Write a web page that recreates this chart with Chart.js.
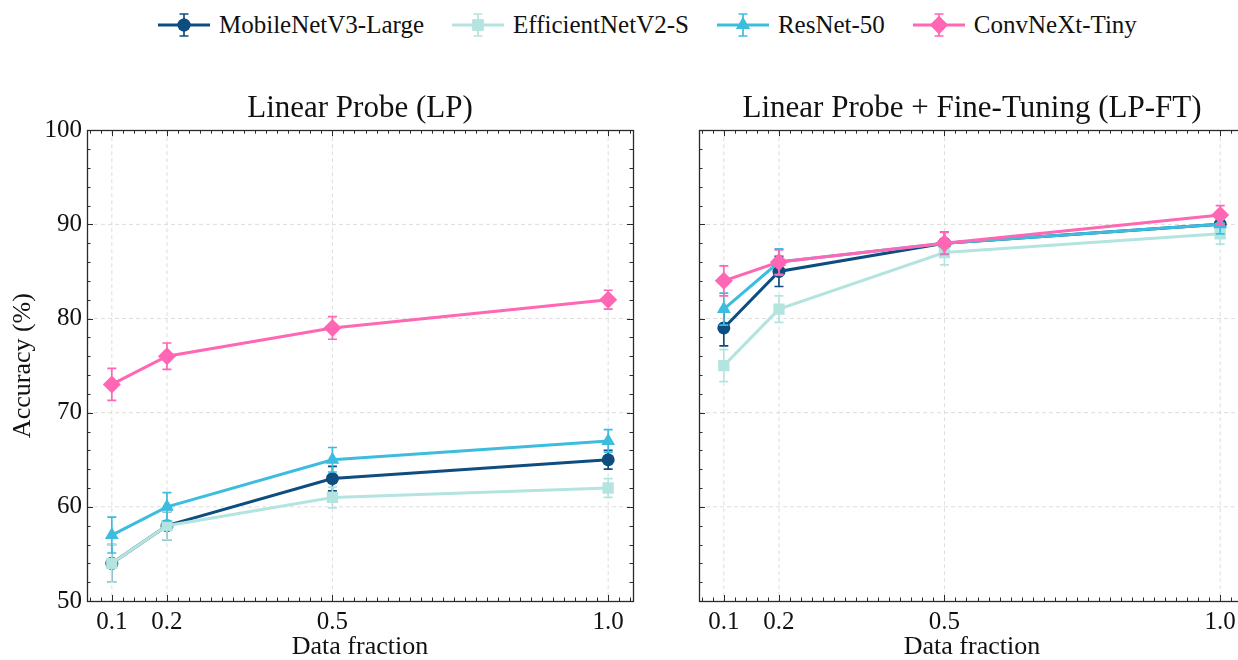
<!DOCTYPE html>
<html>
<head>
<meta charset="utf-8">
<script src="https://cdn.jsdelivr.net/npm/chart.js@4.4.0/dist/chart.umd.min.js"></script>
<style>
  body { margin: 0; width: 1238px; height: 660px; background: #fff; position: relative; overflow: hidden;
         font-family: "Liberation Serif", serif; }
  .plot { position: absolute; top: 60px; height: 600px; }
  #legend { position: absolute; top: 8px; left: 158px; height: 34px; display: flex; align-items: center; gap: 28px; }
  #legend .item { display: flex; align-items: center; font-size: 25px; color: #111; }
  #legend canvas { margin-right: 9px; }
</style>
</head>
<body>
<div id="legend"></div>
<div class="plot" style="left:0;width:645px"><canvas id="lp"></canvas></div>
<div class="plot" style="left:660px;width:600px"><canvas id="lpft"></canvas></div>
<script>
const fractions = [0.1, 0.2, 0.5, 1.0];
const xTickLabels = ["0.1", "0.2", "0.5", "1.0"];
const models = ["MobileNetV3-Large", "EfficientNetV2-S", "ResNet-50", "ConvNeXt-Tiny"];
const colors = ["#0e4d80", "#b4e4df", "#3cbde0", "#ff66b3"];
const markers = ["circle", "rect", "triangle", "rectRot"];
const markerSizes = [6.5, 8, 8, 9];

// Linear probe
const lpMobileNet = [54, 58, 63, 65];
const lpMobileNetErr = [2.0, 1.5, 1.3, 1.0];
const lpEfficientNet = [54, 58, 61, 62];
const lpEfficientNetErr = [2.0, 1.5, 1.1, 1.0];
const lpResNet = [57, 60, 65, 67];
const lpResNetErr = [1.9, 1.5, 1.3, 1.2];
const lpConvNeXt = [73, 76, 79, 82];
const lpConvNeXtErr = [1.7, 1.4, 1.2, 1.0];

// Linear probe + fine-tuning
const ftMobileNet = [79, 85, 88, 90];
const ftMobileNetErr = [1.9, 1.6, 1.2, 1.0];
const ftEfficientNet = [75, 81, 87, 89];
const ftEfficientNetErr = [1.7, 1.4, 1.3, 1.1];
const ftResNet = [81, 86, 88, 90];
const ftResNetErr = [1.7, 1.4, 1.2, 1.0];
const ftConvNeXt = [84, 86, 88, 91];
const ftConvNeXtErr = [1.6, 1.3, 1.15, 1.0];

const FONT = "Liberation Serif";

function buildLegend() {
  const lg = document.getElementById("legend");
  models.forEach((name, i) => {
    const item = document.createElement("div");
    item.className = "item";
    const c = document.createElement("canvas");
    c.width = 52; c.height = 34;
    const g = c.getContext("2d");
    g.strokeStyle = colors[i]; g.fillStyle = colors[i];
    g.lineWidth = 3;
    g.beginPath(); g.moveTo(0, 17); g.lineTo(52, 17); g.stroke();
    g.lineWidth = 1.7;
    g.beginPath(); g.moveTo(26, 6); g.lineTo(26, 28);
    g.moveTo(21.5, 6); g.lineTo(30.5, 6); g.moveTo(21.5, 28); g.lineTo(30.5, 28); g.stroke();
    Chart.helpers.drawPoint(g, {pointStyle: markers[i], radius: markerSizes[i], borderWidth: 0}, 26, 17);
    g.fill();
    item.appendChild(c);
    const t = document.createElement("span");
    t.textContent = name;
    item.appendChild(t);
    lg.appendChild(item);
  });
}

const errorBars = {
  id: "errorBars",
  beforeDatasetDraw(chart, args) {
    const ds = chart.data.datasets[args.index];
    const {x: xs, y: ys} = chart.scales;
    const ctx = chart.ctx;
    ctx.save();
    ctx.strokeStyle = ds.borderColor;
    ctx.lineWidth = 1.7;
    ds.data.forEach((p, i) => {
      const e = ds.errors[i];
      const px = xs.getPixelForValue(p.x);
      const top = ys.getPixelForValue(p.y + e);
      const bot = ys.getPixelForValue(p.y - e);
      ctx.beginPath();
      ctx.moveTo(px, top); ctx.lineTo(px, bot);
      ctx.moveTo(px - 4.5, top); ctx.lineTo(px + 4.5, top);
      ctx.moveTo(px - 4.5, bot); ctx.lineTo(px + 4.5, bot);
      ctx.stroke();
    });
    ctx.restore();
  }
};

const frame = {
  id: "frame",
  beforeDatasetsDraw(chart) {
    const {ctx, chartArea: a, scales: {x, y}} = chart;
    ctx.save();
    ctx.strokeStyle = "#d4d4d4";
    ctx.lineWidth = 0.8;
    ctx.setLineDash([4, 3]);
    ctx.beginPath();
    fractions.forEach(v => { const px = x.getPixelForValue(v); ctx.moveTo(px, a.top); ctx.lineTo(px, a.bottom); });
    [60, 70, 80, 90].forEach(v => { const py = y.getPixelForValue(v); ctx.moveTo(a.left, py); ctx.lineTo(a.right, py); });
    ctx.stroke();
    ctx.restore();
  },
  afterDraw(chart) {
    const {ctx, chartArea: a, scales: {x, y}} = chart;
    ctx.save();
    ctx.strokeStyle = "#2a2a2a";
    ctx.lineWidth = 1.3;
    ctx.strokeRect(Math.round(a.left) + 0.5, Math.round(a.top) + 0.5, Math.round(a.right - a.left), Math.round(a.bottom - a.top));
    ctx.lineWidth = 1;
    ctx.beginPath();
    for (let v = 50; v <= 100; v += 2) {
      const len = v % 10 === 0 ? 6 : 3.5;
      const py = Math.round(y.getPixelForValue(v)) + 0.5;
      ctx.moveTo(a.left, py); ctx.lineTo(a.left + len, py);
      ctx.moveTo(a.right, py); ctx.lineTo(a.right - len, py);
    }
    for (let k = 3; k <= 52; k++) {
      const v = k * 0.02;
      const major = fractions.some(f => Math.abs(f - v) < 1e-6);
      const len = major ? 6 : 3.5;
      const px = Math.round(x.getPixelForValue(v)) + 0.5;
      ctx.moveTo(px, a.bottom); ctx.lineTo(px, a.bottom - len);
      ctx.moveTo(px, a.top); ctx.lineTo(px, a.top + len);
    }
    ctx.stroke();
    ctx.restore();
  }
};

function makeChart(id, title, series, errs, first, padRight, yWidth) {
  const datasets = series.map((vals, i) => ({
    label: models[i],
    data: vals.map((v, j) => ({x: fractions[j], y: v})),
    errors: errs[i],
    borderColor: colors[i],
    backgroundColor: colors[i],
    borderWidth: 3,
    pointStyle: markers[i],
    pointRadius: markerSizes[i],
    pointBorderWidth: 0,
    order: 3 - i,
    tension: 0
  }));
  return new Chart(document.getElementById(id), {
    type: "line",
    data: {datasets},
    options: {
      responsive: true,
      maintainAspectRatio: false,
      animation: false,
      layout: {padding: {top: 0, right: padRight, bottom: 0, left: 0}},
      plugins: {
        legend: {display: false},
        tooltip: {enabled: false},
        title: {display: true, text: title, fullSize: false, color: "#111",
                font: {family: FONT, size: 31, weight: "normal", lineHeight: 1.2}, padding: {top: 30, bottom: 3}}
      },
      scales: {
        x: {
          type: "linear", min: 0.055, max: 1.045,
          grid: {display: false, drawTicks: false}, border: {display: false},
          afterBuildTicks: s => { s.ticks = fractions.map(v => ({value: v})); },
          afterFit: s => { s.height = 59; },
          ticks: {autoSkip: false, maxRotation: 0, padding: 6, color: "#111",
                  font: {family: FONT, size: 25},
                  callback: v => xTickLabels[fractions.indexOf(v)]},
          title: {display: true, text: "Data fraction", color: "#111", padding: {top: 0, bottom: 0},
                  font: {family: FONT, size: 26, lineHeight: 1.0}}
        },
        y: {
          min: 50, max: 100,
          grid: {display: false, drawTicks: false}, border: {display: false},
          afterFit: s => { s.width = yWidth; },
          ticks: {display: first, stepSize: 10, padding: 5, color: "#111", font: {family: FONT, size: 25}},
          title: {display: first, text: "Accuracy (%)", color: "#111", padding: {top: 10, bottom: 0},
                  font: {family: FONT, size: 26, lineHeight: 1.0}}
        }
      }
    },
    plugins: [errorBars, frame]
  });
}

buildLegend();
makeChart("lp", "Linear Probe (LP)",
  [lpMobileNet, lpEfficientNet, lpResNet, lpConvNeXt],
  [lpMobileNetErr, lpEfficientNetErr, lpResNetErr, lpConvNeXtErr], true, 12, 87);
makeChart("lpft", "Linear Probe + Fine-Tuning (LP-FT)",
  [ftMobileNet, ftEfficientNet, ftResNet, ftConvNeXt],
  [ftMobileNetErr, ftEfficientNetErr, ftResNetErr, ftConvNeXtErr], false, 15, 39);
</script>
</body>
</html>
